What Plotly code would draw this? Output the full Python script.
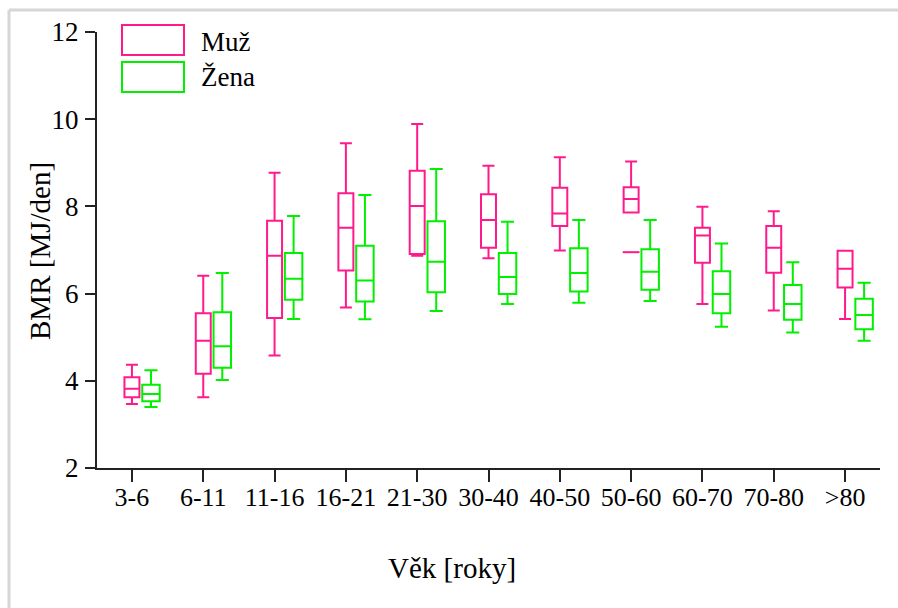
import plotly.graph_objects as go

categories = ["3-6", "6-11", "11-16", "16-21", "21-30", "30-40", "40-50", "50-60", "60-70", "70-80", ">80"]

# Muž (men)
muz_low = [3.47, 3.62, 4.58, 5.68, 6.87, 6.81, 6.99, 7.86, 5.76, 5.61, 5.42]
muz_q1 = [3.62, 4.16, 5.44, 6.53, 6.91, 7.05, 7.55, 7.86, 6.71, 6.48, 6.14]
muz_med = [3.82, 4.92, 6.87, 7.51, 8.01, 7.69, 7.84, 8.17, 7.33, 7.05, 6.57]
muz_q3 = [4.08, 5.55, 7.67, 8.30, 8.82, 8.28, 8.43, 8.44, 7.51, 7.55, 6.98]
muz_high = [4.37, 6.41, 8.77, 9.45, 9.89, 8.93, 9.13, 9.03, 7.99, 7.89, 6.98]

# Žena (women)
zena_low = [3.40, 4.02, 5.42, 5.41, 5.60, 5.76, 5.79, 5.83, 5.24, 5.11, 4.92]
zena_q1 = [3.53, 4.30, 5.86, 5.82, 6.03, 5.99, 6.05, 6.09, 5.55, 5.40, 5.18]
zena_med = [3.70, 4.79, 6.34, 6.30, 6.73, 6.38, 6.47, 6.50, 5.99, 5.76, 5.51]
zena_q3 = [3.91, 5.57, 6.93, 7.10, 7.66, 6.93, 7.04, 7.02, 6.51, 6.20, 5.88]
zena_high = [4.24, 6.47, 7.78, 8.26, 8.86, 7.65, 7.69, 7.69, 7.15, 6.72, 6.25]

# outlier (Muž, 50-60)
outlier_cat = ["50-60"]
outlier_val = [6.95]

y_ticks = [2, 4, 6, 8, 10, 12]

PINK = "#FF1A8C"
GREEN = "#00F000"
FONT = "Liberation Serif"

idx = list(range(len(categories)))
zena_off = 0.267

# plot-area geometry helpers (pixels -> paper)
L, R, T, B = 97, 18, 32, 140
PW, PH = 898 - L - R, 608 - T - B


def px(x):
    return (x - L) / PW


def py(y):
    return (608 - B - y) / PH


fig = go.Figure()
fig.add_trace(go.Box(
    x=idx, q1=muz_q1, median=muz_med, q3=muz_q3,
    lowerfence=muz_low, upperfence=muz_high,
    name="Muž", width=0.21, whiskerwidth=0.8,
    line=dict(color=PINK, width=2), fillcolor="rgba(0,0,0,0)",
    showlegend=False, hoverinfo="skip"))
fig.add_trace(go.Box(
    x=[i + zena_off for i in idx], q1=zena_q1, median=zena_med, q3=zena_q3,
    lowerfence=zena_low, upperfence=zena_high,
    name="Žena", width=0.245, whiskerwidth=0.75,
    line=dict(color=GREEN, width=2), fillcolor="rgba(0,0,0,0)",
    showlegend=False, hoverinfo="skip"))
fig.add_trace(go.Scatter(
    x=[categories.index(c) for c in outlier_cat], y=outlier_val, mode="markers",
    marker=dict(symbol="line-ew", size=12, line=dict(color=PINK, width=2), color=PINK),
    showlegend=False, hoverinfo="skip"))

fig.update_layout(
    width=898, height=608,
    margin=dict(l=L, r=R, t=T, b=B),
    paper_bgcolor="white", plot_bgcolor="white",
    font=dict(family=FONT, color="black"),
    xaxis=dict(range=[-0.49, 10.49], tickmode="array", tickvals=idx, ticktext=categories,
               showgrid=False, zeroline=False, showline=True, linecolor="#222", linewidth=2,
               ticks="outside", ticklen=12, tickwidth=2, tickcolor="#222",
               ticklabelstandoff=-7,
               tickfont=dict(family=FONT, size=26, color="black")),
    yaxis=dict(range=[2, 12], tickvals=y_ticks, showgrid=False, zeroline=False,
               showline=True, linecolor="#222", linewidth=2,
               ticks="outside", ticklen=10, tickwidth=2, tickcolor="#222",
               ticklabelstandoff=1,
               tickfont=dict(family=FONT, size=27, color="black")),
    annotations=[
        dict(text="Věk [roky]", xref="paper", yref="paper", x=px(452), y=py(568),
             showarrow=False, font=dict(family=FONT, size=29, color="black"),
             xanchor="center", yanchor="middle"),
        dict(text="BMR [MJ/den]", xref="paper", yref="paper", x=px(40), y=py(251),
             textangle=-90, showarrow=False, font=dict(family=FONT, size=29, color="black"),
             xanchor="center", yanchor="middle"),
        dict(text="Muž", xref="paper", yref="paper", x=px(199), y=py(42),
             showarrow=False, font=dict(family=FONT, size=27, color="black"),
             xanchor="left", yanchor="middle"),
        dict(text="Žena", xref="paper", yref="paper", x=px(199), y=py(77),
             showarrow=False, font=dict(family=FONT, size=27, color="black"),
             xanchor="left", yanchor="middle"),
    ],
    shapes=[
        dict(type="rect", xref="paper", yref="paper",
             x0=px(122), x1=px(184), y0=py(55), y1=py(25),
             line=dict(color=PINK, width=2)),
        dict(type="rect", xref="paper", yref="paper",
             x0=px(122), x1=px(184), y0=py(92), y1=py(62),
             line=dict(color=GREEN, width=2)),
        dict(type="line", xref="paper", yref="paper",
             x0=px(9), x1=px(898), y0=py(10), y1=py(10),
             line=dict(color="#D6D6D6", width=3)),
        dict(type="line", xref="paper", yref="paper",
             x0=px(9), x1=px(9), y0=py(10), y1=py(608),
             line=dict(color="#D6D6D6", width=3)),
    ],
)

fig.write_html("out.html")
